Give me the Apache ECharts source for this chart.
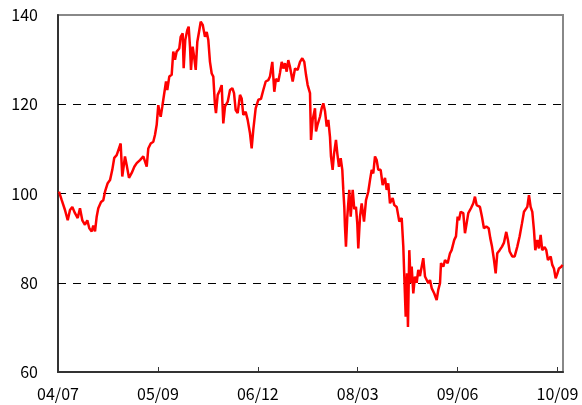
<!DOCTYPE html>
<html>
<head>
<meta charset="utf-8">
<script src="https://cdn.jsdelivr.net/npm/echarts@6/dist/echarts.min.js"></script>
<style>
html,body{margin:0;padding:0;background:#fff;}
#chart{width:582px;height:405px;}
</style>
</head>
<body>
<div id="chart"></div>
<script>
// x: months elapsed since 2004/07
var months = [
0.15,0.56,1.05,1.46,1.80,2.15,2.55,2.96,3.30,3.65,4.05,4.40,4.70,5.06,5.30,5.56,5.81,6.05,6.46,6.80,
7.06,7.46,7.81,8.15,8.45,8.81,9.05,9.41,9.65,10.06,10.31,10.66,11.07,11.46,11.82,12.31,
12.81,13.32,13.56,13.92,14.31,14.56,14.82,15.06,15.21,15.42,15.66,15.92,16.22,16.41,16.71,17.07,17.31,17.57,17.82,18.21,
18.42,18.72,18.87,19.11,19.41,19.62,19.82,19.97,20.22,20.47,20.68,20.92,21.22,21.43,21.73,22.07,22.33,22.57,22.82,23.08,
23.32,23.57,23.72,23.98,24.32,24.58,24.82,25.08,
25.49,25.83,26.18,26.43,26.68,26.98,27.33,27.58,27.82,28.18,28.48,28.83,29.08,29.32,29.68,30.08,30.48,30.83,31.19,31.58,
31.83,32.18,32.48,32.73,33.08,33.33,33.59,33.83,34.08,34.34,34.58,34.83,35.24,35.59,35.99,36.34,36.68,36.98,37.24,37.49,
37.84,37.99,38.24,38.33,38.59,
38.74,38.99,39.34,39.59,39.84,40.09,40.35,40.59,40.84,40.99,41.24,41.44,41.74,41.94,42.19,42.45,42.69,42.84,42.99,43.09,
43.24,43.44,43.74,43.95,44.25,44.49,44.74,44.94,45.09,45.35,45.60,45.95,46.25,46.59,46.85,47.10,47.34,47.60,47.85,48.09,
48.45,48.75,49.10,49.35,49.59,49.85,50.25,50.50,50.86,51.25,
51.61,51.85,52.00,52.21,52.40,52.55,52.75,52.96,53.11,53.35,53.60,53.86,54.10,54.35,54.61,54.85,55.11,55.36,55.60,55.86,
56.11,56.50,56.86,57.10,57.36,57.51,57.86,58.11,58.51,58.86,59.11,59.50,59.76,60.01,60.21,60.46,60.86,61.11,61.36,61.61,
62.01,62.36,62.61,62.86,63.11,
63.36,63.66,63.96,64.31,64.67,64.91,65.17,65.47,65.72,65.96,66.32,66.67,66.97,67.31,67.57,67.82,68.21,68.57,68.97,69.32,
69.67,69.97,70.22,70.47,70.72,70.97,71.22,71.47,71.67,71.97,72.22,72.47,72.71,73.07,73.32,73.57,73.98,74.22,74.47,74.73,
74.97,75.22,75.57,75.75
];
var values = [
100.4,98.5,96.3,94.0,96.3,97.0,95.6,94.5,96.7,94.0,93.0,94.0,92.2,91.5,92.8,91.5,94.8,96.7,98.1,98.5,
100.4,102.3,103.0,105.3,108.0,108.6,108.2,111.2,103.8,108.3,106.4,103.5,104.6,106.0,106.8,107.5,
108.3,106.0,110.1,111.2,111.6,113.1,115.4,119.8,118.5,117.2,119.5,119.2,125.1,123.2,126.2,126.6,131.8,130.0,131.8,132.5,
135.1,135.9,128.1,134.4,136.6,137.4,132.9,127.7,132.9,130.3,127.7,134.0,136.6,138.5,137.8,135.1,136.2,134.4,129.5,126.9,
126.2,119.8,118.0,122.1,123.2,124.3,115.7,119.5,
120.6,123.2,123.6,122.5,118.7,118.0,122.1,121.3,117.6,118.3,116.5,113.5,110.1,114.2,119.1,121.0,121.2,123.2,125.1,125.4,
126.2,129.5,122.8,125.7,125.1,127.0,129.5,128.0,129.2,127.3,129.9,128.4,125.1,128.0,127.7,129.5,130.3,129.5,126.6,124.3,
122.5,112.0,116.5,117.2,119.1,
113.9,115.5,117.2,119.1,120.2,118.5,115.0,116.5,112.7,108.3,105.3,108.8,112.0,109.0,106.0,107.9,105.3,100.8,97.0,92.6,
88.1,94.8,100.8,94.8,100.8,96.5,97.0,93.3,87.7,94.8,97.8,93.7,98.5,100.4,103.0,105.3,104.5,108.3,107.5,105.3,
105.3,101.9,103.5,100.8,102.3,97.8,99.0,97.4,97.0,93.7,
94.5,88.1,81.4,72.4,82.1,70.1,87.3,79.9,83.6,77.6,81.4,80.0,82.9,81.5,83.6,85.5,81.4,81.8,79.9,80.6,
78.8,77.6,76.1,78.4,79.9,84.4,83.6,85.1,84.4,86.6,87.3,89.6,90.4,94.8,94.0,95.9,95.6,91.1,93.3,95.6,
96.7,97.8,99.3,97.4,97.0,
97.0,94.8,92.2,92.6,92.2,90.0,88.1,85.1,82.1,86.6,87.3,88.1,89.0,91.4,89.5,87.0,85.9,85.9,88.1,90.4,
93.3,95.9,95.6,97.0,99.6,97.0,95.9,91.8,87.3,89.6,87.7,90.7,87.3,88.0,87.3,85.1,85.9,84.0,83.2,81.0,
82.0,83.2,83.6,84.0
];
var tickLabels = ['04/07','05/09','06/12','08/03','09/06','10/09'];
var gridValues = [80, 100, 120];

var seriesData = months.map(function (m, i) { return [m, values[i]]; });

var chart = echarts.init(document.getElementById('chart'), null, {renderer: 'canvas'});
var font = '"Noto Sans CJK JP", "Noto Sans", sans-serif';
chart.setOption({
  animation: false,
  backgroundColor: '#ffffff',
  grid: {left: 58, right: 19, top: 15, bottom: 33, show: true, borderColor: '#888888', borderWidth: 2, backgroundColor: 'transparent'},
  xAxis: {
    type: 'value', min: 0, max: 75.83, interval: 15,
    axisLine: {show: true, lineStyle: {color: '#333333', width: 2}},
    axisTick: {show: true, inside: true, length: 5, lineStyle: {color: '#333333', width: 1}},
    splitLine: {show: false},
    axisLabel: {
      showMaxLabel: false, margin: 14, color: '#000', fontSize: 16, fontFamily: font,
      formatter: function (v) { var i = Math.round(v / 15); return (Math.abs(v - i * 15) < 1e-6 && tickLabels[i]) ? tickLabels[i] : ''; }
    }
  },
  yAxis: {
    type: 'value', min: 60, max: 140, interval: 20,
    axisLine: {show: true, lineStyle: {color: '#333333', width: 2}},
    axisTick: {show: false},
    splitLine: {show: false},
    axisLabel: {margin: 20, color: '#000', fontSize: 16, fontFamily: font}
  },
  series: [{
    type: 'line',
    data: seriesData,
    showSymbol: false,
    symbol: 'none',
    lineStyle: {color: '#ff0000', width: 2.5},
    z: 3,
    markLine: {
      silent: true, symbol: ['none', 'none'], label: {show: false},
      lineStyle: {color: '#000000', type: [8, 7], width: 1},
      data: gridValues.map(function (v) { return {yAxis: v}; }),
      z: 1
    }
  }]
});
</script>
</body>
</html>
